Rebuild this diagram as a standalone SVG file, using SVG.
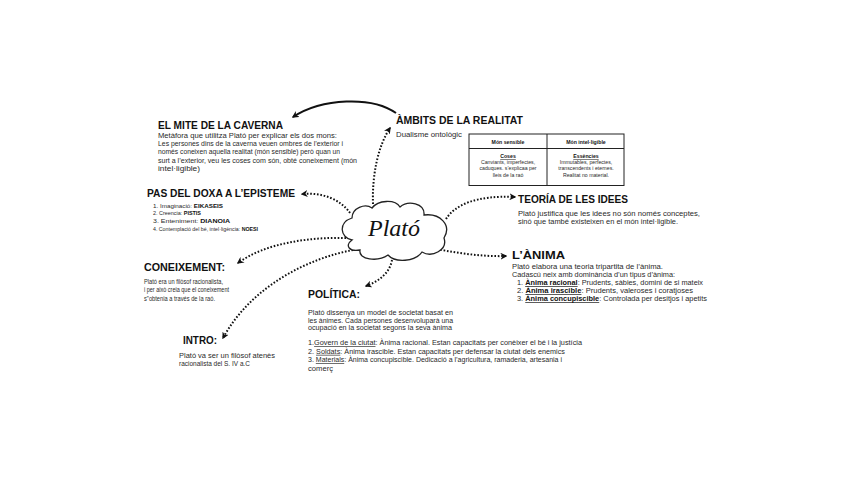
<svg xmlns="http://www.w3.org/2000/svg" width="848" height="477" viewBox="0 0 848 477">
<defs>
<marker id="ah" viewBox="0 0 10 10" refX="8" refY="5" markerWidth="7" markerHeight="7" markerUnits="userSpaceOnUse" orient="auto"><path d="M0,0 L10,5 L0,10 L3,5 Z" fill="#111"/></marker>
</defs>
<style>
text{font-family:"Liberation Sans",Arial,sans-serif;fill:#2a2a2a}
.h{font-size:11px;font-weight:bold;fill:#111}
.b{font-size:6.8px}
.l{font-size:6.2px}
.t{font-size:5.2px;text-anchor:middle}
.bold{font-weight:bold;fill:#111}
.u{text-decoration:underline}
.dot{fill:none;stroke:#111;stroke-width:2;stroke-dasharray:1.6 1.8}
.sol{fill:none;stroke:#111;stroke-width:2}
</style>
<rect width="848" height="477" fill="#fff"/>

<g id="connectors">
<path class="sol" d="M396,113 C372,96 322,98 293,117" marker-end="url(#ah)"/>
<path class="dot" d="M373,204 C372,175 378,146 390,128" marker-end="url(#ah)"/>
<path class="dot" d="M350,213 C341,200 323,192 302,194" marker-end="url(#ah)"/>
<path class="dot" d="M446,219 C455,205 476,195 515,197" marker-end="url(#ah)"/>
<path class="dot" d="M346,238 C310,237 265,243 238,263" marker-end="url(#ah)"/>
<path class="dot" d="M353,250 C310,258 252,285 223,338" marker-end="url(#ah)"/>
<path class="dot" d="M392,260 C390,272 380,281 366,286" marker-end="url(#ah)"/>
<path class="dot" d="M427,247 C450,252 480,257 506,256" marker-end="url(#ah)"/>
</g>

<g id="plato">
<path d="M352,240 C340,238 338,222 352,218 C352,208 365,203 372,208 C378,200 395,199 400,207 C408,200 425,203 424,215 C440,213 452,225 444,238 C448,250 432,258 422,252 C415,262 395,263 388,255 C378,262 358,260 360,250 C350,252 344,246 352,240 Z" fill="#fff" stroke="#222" stroke-width="1.3"/>
<text x="394" y="236" text-anchor="middle" style="font-family:'Liberation Serif','DejaVu Serif',serif;font-style:italic;font-size:24px;fill:#111">Plató</text>
</g>

<g id="mite">
<text class="h" x="158" y="129" textLength="125" lengthAdjust="spacingAndGlyphs">EL MITE DE LA CAVERNA</text>
<text class="b" x="158" y="137.5" textLength="179" lengthAdjust="spacingAndGlyphs">Metàfora que utilitza Plató per explicar els dos mons:</text>
<text class="b" x="158" y="146" textLength="185" lengthAdjust="spacingAndGlyphs">Les persones dins de la caverna veuen ombres de l’exterior i</text>
<text class="b" x="158" y="154.4" textLength="182" lengthAdjust="spacingAndGlyphs">només coneixen aquella realitat (món sensible) però quan un</text>
<text class="b" x="158" y="163" textLength="199" lengthAdjust="spacingAndGlyphs">surt a l’exterior, veu les coses com són, obté coneixement (món</text>
<text class="b" x="158" y="171.4" textLength="42" lengthAdjust="spacingAndGlyphs">intel·ligible)</text>
</g>

<g id="ambits">
<text class="h" x="396" y="124" textLength="127" lengthAdjust="spacingAndGlyphs">ÀMBITS DE LA REALITAT</text>
<text class="b" x="396" y="137" textLength="66" lengthAdjust="spacingAndGlyphs">Dualisme ontològic</text>
<rect x="469" y="134" width="155" height="51.5" fill="#fff" stroke="#222" stroke-width="1"/>
<line x1="469" y1="148.5" x2="624" y2="148.5" stroke="#222" stroke-width="1"/>
<line x1="547" y1="134" x2="547" y2="185.5" stroke="#222" stroke-width="1"/>
<text class="t bold" x="508" y="144">Món sensible</text>
<text class="t bold" x="586" y="144">Món intel·ligible</text>
<text class="t bold u" x="508" y="158">Coses</text>
<text class="t" x="508" y="164.2">Canviants, imperfectes,</text>
<text class="t" x="508" y="170.4">caduques. s’explicaa per</text>
<text class="t" x="508" y="176.6">lleis de la raó</text>
<text class="t bold u" x="586" y="158">Essències</text>
<text class="t" x="586" y="164.2">Immutables, perfectes,</text>
<text class="t" x="586" y="170.4">transcendents i eternes.</text>
<text class="t" x="586" y="176.6">Realitat no material.</text>
</g>

<g id="doxa">
<text class="h" x="147" y="197" textLength="148" lengthAdjust="spacingAndGlyphs">PAS DEL DOXA A L’EPISTEME</text>
<text class="l" x="153" y="207.5" textLength="70" lengthAdjust="spacingAndGlyphs">1. Imaginació: <tspan class="bold">EIKASEIS</tspan></text>
<text class="l" x="153" y="215.2" textLength="48" lengthAdjust="spacingAndGlyphs">2. Creencia: <tspan class="bold">PISTIS</tspan></text>
<text class="l" x="153" y="222.9" textLength="77" lengthAdjust="spacingAndGlyphs">3. Enteniment: <tspan class="bold">DIANOIA</tspan></text>
<text class="l" x="153" y="230.8" textLength="105" lengthAdjust="spacingAndGlyphs">4. Contemplació del bé, intel·ligència: <tspan class="bold">NOESI</tspan></text>
</g>

<g id="teoria">
<text class="h" x="518" y="203" textLength="110" lengthAdjust="spacingAndGlyphs">TEORÍA DE LES IDEES</text>
<text class="b" x="518" y="215.5" textLength="182" lengthAdjust="spacingAndGlyphs">Plató justifica que les idees no són només conceptes,</text>
<text class="b" x="518" y="224" textLength="160" lengthAdjust="spacingAndGlyphs">sinó que també existeixen en el món intel·ligible.</text>
</g>

<g id="coneixement">
<text class="h" x="144" y="271" textLength="81" lengthAdjust="spacingAndGlyphs">CONEIXEMENT:</text>
<text class="b" x="144" y="284" textLength="79" lengthAdjust="spacingAndGlyphs">Plató era un filòsof racionalista,</text>
<text class="b" x="144" y="292.3" textLength="85" lengthAdjust="spacingAndGlyphs">i per això creia que el coneixement</text>
<text class="b" x="144" y="300.6" textLength="71" lengthAdjust="spacingAndGlyphs">s"obtenia a través de la raó.</text>
</g>

<g id="anima">
<text class="h" x="512" y="259" textLength="53" lengthAdjust="spacingAndGlyphs">L’ÀNIMA</text>
<text class="b" x="512" y="269" textLength="151" lengthAdjust="spacingAndGlyphs">Plató elabora una teoria tripartita de l’ànima.</text>
<text class="b" x="512" y="277" textLength="163" lengthAdjust="spacingAndGlyphs">Cadascú neix amb dominància d’un tipus d’ànima:</text>
<text class="b" x="517" y="285" textLength="186" lengthAdjust="spacingAndGlyphs">1. <tspan class="bold u">Ànima racional</tspan>: Prudents, sàbies, domini de si mateix</text>
<text class="b" x="517" y="293" textLength="176" lengthAdjust="spacingAndGlyphs">2. <tspan class="bold u">Ànima irascible</tspan>: Prudents, valeroses i coratjoses</text>
<text class="b" x="517" y="301" textLength="190" lengthAdjust="spacingAndGlyphs">3. <tspan class="bold u">Ànima concupiscible</tspan>: Controlada per desitjos i apetits</text>
</g>

<g id="politica">
<text class="h" x="308" y="298" textLength="52" lengthAdjust="spacingAndGlyphs">POLÍTICA:</text>
<text class="b" x="308" y="314.5" textLength="145" lengthAdjust="spacingAndGlyphs">Plató dissenya un model de societat basat en</text>
<text class="b" x="308" y="322.5" textLength="145" lengthAdjust="spacingAndGlyphs">les ànimes. Cada persones desenvoluparà una</text>
<text class="b" x="308" y="330.3" textLength="144" lengthAdjust="spacingAndGlyphs">ocupació en la societat segons la seva ànima</text>
<text class="b" x="308" y="345" textLength="274" lengthAdjust="spacingAndGlyphs">1.<tspan class="u">Govern de la ciutat</tspan>: Ànima racional. Estan capacitats per conèixer el bé i la justícia</text>
<text class="b" x="308" y="353.8" textLength="257" lengthAdjust="spacingAndGlyphs">2. <tspan class="u">Soldats</tspan>: Ànima irascible. Estan capacitats per defensar la ciutat dels enemics</text>
<text class="b" x="308" y="362.3" textLength="254" lengthAdjust="spacingAndGlyphs">3. <tspan class="u">Materials</tspan>: Ànima concupiscible. Dedicació a l’agricultura, ramaderia, artesania i</text>
<text class="b" x="308" y="370.6" textLength="25" lengthAdjust="spacingAndGlyphs">comerç</text>
</g>

<g id="intro">
<text class="h" x="183" y="344" textLength="34" lengthAdjust="spacingAndGlyphs">INTRO:</text>
<text class="b" x="179" y="357.5" textLength="96" lengthAdjust="spacingAndGlyphs">Plató va ser un filòsof atenès</text>
<text class="b" x="179" y="366" textLength="71" lengthAdjust="spacingAndGlyphs">racionalista del S. IV a.C</text>
</g>
</svg>
